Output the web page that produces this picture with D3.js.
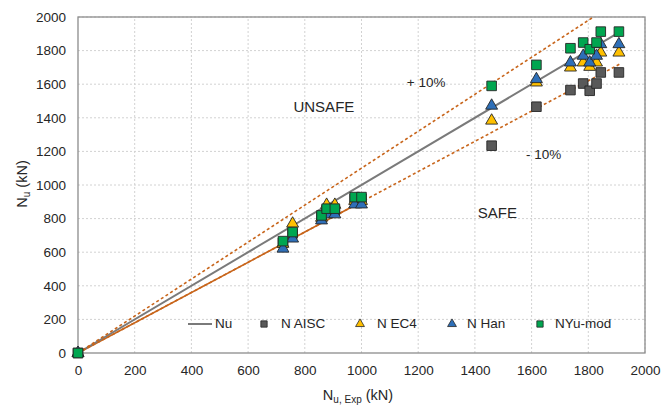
<!DOCTYPE html>
<html>
<head>
<meta charset="utf-8">
<script src="https://cdn.jsdelivr.net/npm/d3@7"></script>
<style>
  html, body { margin: 0; padding: 0; background: #fff; }
  svg { display: block; font-family: "Liberation Sans", Arial, sans-serif; }
</style>
</head>
<body>
<svg id="chart" width="671" height="409"></svg>
<script>
// Experimental axial capacity of each specimen (kN)
const nuExp   = [0, 723, 757, 859, 877, 906, 976, 1000, 1459, 1617, 1737, 1782, 1805, 1829, 1844, 1908];
// Predicted capacities (kN)
const nAISC   = [0, 656, 712, 810, 850, 850, 918, 918, 1234, 1466, 1565, 1604, 1561, 1604, 1670, 1670];
const nEC4    = [0, 650, 770, 805, 882, 882, 905, 905, 1383, 1610, 1699, 1729, 1703, 1729, 1788, 1788];
const nHan    = [0, 621, 681, 789, 825, 825, 884, 884, 1472, 1630, 1729, 1769, 1729, 1769, 1838, 1838];
const nYuMod  = [0, 666, 720, 819, 859, 859, 928, 928, 1590, 1715, 1814, 1848, 1808, 1848, 1913, 1913];
// Axis ticks
const tickValues = [0, 200, 400, 600, 800, 1000, 1200, 1400, 1600, 1800, 2000];
// Reference lines: ratio of prediction to test, and end of each on the test axis
const refRatios = [1.0, 1.1, 0.9];
const refEnds   = [1910, 1818, 1910];

const svg = d3.select("#chart");
const plotL = 78, plotR = 645, plotT = 17, plotB = 353;
const x = d3.scaleLinear().domain([0, 2000]).range([plotL, plotR]);
const y = d3.scaleLinear().domain([0, 2000]).range([plotB, plotT]);

// Dotted grid
const grid = svg.append("g").attr("stroke", "#d2d2d2").attr("stroke-width", 1).attr("stroke-dasharray", "2,2");
tickValues.slice(1).forEach(v => {
  grid.append("line").attr("x1", x(v)).attr("x2", x(v)).attr("y1", y(0)).attr("y2", y(2000));
  grid.append("line").attr("x1", x(0)).attr("x2", x(2000)).attr("y1", y(v)).attr("y2", y(v));
});

// Frame
svg.append("rect").attr("x", plotL).attr("y", plotT).attr("width", plotR - plotL).attr("height", plotB - plotT)
  .attr("fill", "none").attr("stroke", "#8c8c8c").attr("stroke-width", 1.3);

// Axes
const axisX = svg.append("g").attr("transform", `translate(0,${plotB})`)
  .call(d3.axisBottom(x).tickValues(tickValues).tickSize(0).tickPadding(12).tickFormat(d3.format("d")));
const axisY = svg.append("g").attr("transform", `translate(${plotL},0)`)
  .call(d3.axisLeft(y).tickValues(tickValues).tickSize(0).tickPadding(12).tickFormat(d3.format("d")));
[axisX, axisY].forEach(a => {
  a.select(".domain").remove();
  a.selectAll("text").attr("font-size", 13.5).attr("fill", "#262626")
    .attr("font-family", "'Liberation Sans', Arial, sans-serif");
});

// Reference lines: y = x (solid gray), +/-10% (dashed orange)
const orange = "#c8651b";
const line = d3.line().x(d => x(d[0])).y(d => y(d[1]));
svg.append("path").attr("d", line([[0, 0], [1000, 900]]))
  .attr("fill", "none").attr("stroke", orange).attr("stroke-width", 1.6);
refRatios.forEach((r, i) => {
  const p = svg.append("path").attr("d", line([[0, 0], [refEnds[i], refEnds[i] * r]]))
    .attr("fill", "none");
  if (r === 1) p.attr("stroke", "#7a7a7a").attr("stroke-width", 2);
  else p.attr("stroke", orange).attr("stroke-width", 1.6).attr("stroke-dasharray", "3,2.5");
});

// Markers
const series = [
  { name: "N AISC",  values: nAISC,  shape: d3.symbolSquare,   fill: "#595959" },
  { name: "N EC4",   values: nEC4,   shape: d3.symbolTriangle, fill: "#ffc000" },
  { name: "N Han",   values: nHan,   shape: d3.symbolTriangle, fill: "#2e6fb8" },
  { name: "NYu-mod", values: nYuMod, shape: d3.symbolSquare,   fill: "#00a650" }
];
series.forEach(s => {
  const sym = d3.symbol().type(s.shape).size(s.shape === d3.symbolSquare ? 92 : 62);
  svg.append("g").selectAll("path").data(nuExp.map((v, i) => [v, s.values[i]]))
    .join("path")
    .attr("d", sym)
    .attr("transform", d => `translate(${x(d[0])},${y(d[1])})`)
    .attr("fill", s.fill).attr("stroke", "#262626").attr("stroke-width", 0.9);
});

// Region annotations
const ann = [
  { t: "UNSAFE", v: [760, 1460], fs: 15 },
  { t: "+ 10%",  v: [1160, 1605], fs: 13.5 },
  { t: "- 10%",  v: [1580, 1175], fs: 13.5 },
  { t: "SAFE",   v: [1410, 825],  fs: 15 }
];
ann.forEach(a => {
  svg.append("text").attr("x", x(a.v[0])).attr("y", y(a.v[1])).attr("font-size", a.fs)
    .attr("fill", "#262626").attr("dominant-baseline", "middle").text(a.t);
});

// Legend
const ly = 324;
const lg = svg.append("g");
lg.append("line").attr("x1", 188).attr("x2", 212).attr("y1", ly).attr("y2", ly)
  .attr("stroke", "#7a7a7a").attr("stroke-width", 2);
lg.append("text").attr("x", 215).attr("y", ly).attr("dominant-baseline", "middle")
  .attr("font-size", 13.5).attr("fill", "#262626").text("Nu");
const legPos = [[264, 281], [360, 377], [452, 467], [540, 555]];
series.forEach((s, i) => {
  const sym = d3.symbol().type(s.shape).size(s.shape === d3.symbolSquare ? 40 : 34);
  lg.append("path").attr("d", sym).attr("transform", `translate(${legPos[i][0]},${ly})`)
    .attr("fill", s.fill).attr("stroke", "#262626").attr("stroke-width", 0.8);
  lg.append("text").attr("x", legPos[i][1]).attr("y", ly).attr("dominant-baseline", "middle")
    .attr("font-size", 13.5).attr("fill", "#262626").text(s.name);
});

// Axis titles
const yt = svg.append("text").attr("transform", "translate(27,184) rotate(-90)")
  .attr("text-anchor", "middle").attr("font-size", 14.5).attr("fill", "#262626");
yt.append("tspan").text("N");
yt.append("tspan").attr("font-size", 10).attr("dy", 3).text("u");
yt.append("tspan").attr("dy", -3).text(" (kN)");

const xt = svg.append("text").attr("x", 358).attr("y", 400)
  .attr("text-anchor", "middle").attr("font-size", 14.5).attr("fill", "#262626");
xt.append("tspan").text("N");
xt.append("tspan").attr("font-size", 10).attr("dy", 3).text("u, Exp");
xt.append("tspan").attr("dy", -3).text(" (kN)");
</script>
</body>
</html>
